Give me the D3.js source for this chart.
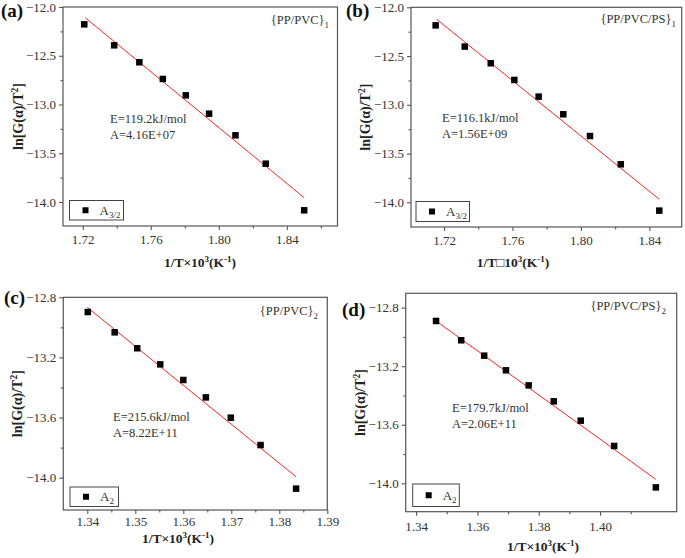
<!DOCTYPE html>
<html>
<head>
<meta charset="utf-8">
<script src="https://cdn.jsdelivr.net/npm/d3@7"></script>
<style>
  body { margin: 0; background: #fff; }
  svg { display: block; }
  text { font-family: "Liberation Serif", "Times New Roman", serif; }
</style>
</head>
<body>
<svg id="chart" width="685" height="558"></svg>
<script>
// ---------- DATA ----------
// Panel (a) {PP/PVC}1, A3/2
const aX = [1.7209, 1.7385, 1.7533, 1.7671, 1.7806, 1.7943, 1.8098, 1.8276, 1.8502];
const aY = [-12.178, -12.393, -12.567, -12.738, -12.906, -13.094, -13.316, -13.607, -14.085];
const aFitX = [1.7214, 1.8502];
const aFitY = [-12.109, -13.956];
const aXTicks = [1.72, 1.76, 1.80, 1.84];
const aXMinor = [1.74, 1.78, 1.82, 1.86];
const aYTicks = [-12.0, -12.5, -13.0, -13.5, -14.0];
const aYMinor = [-12.25, -12.75, -13.25, -13.75];

// Panel (b) {PP/PVC/PS}1, A3/2
const bX = [1.7151, 1.7321, 1.7473, 1.7611, 1.7753, 1.7897, 1.8053, 1.8233, 1.8458];
const bY = [-12.185, -12.403, -12.574, -12.745, -12.916, -13.097, -13.320, -13.610, -14.085];
const bFitX = [1.7157, 1.8458];
const bFitY = [-12.123, -13.969];
const bXTicks = [1.72, 1.76, 1.80, 1.84];
const bXMinor = [1.74, 1.78, 1.82];
const bYTicks = [-12.0, -12.5, -13.0, -13.5, -14.0];
const bYMinor = [-12.25, -12.75, -13.25, -13.75];

// Panel (c) {PP/PVC}2, A2
const cX = [1.3401, 1.3457, 1.3504, 1.3552, 1.3600, 1.3647, 1.3699, 1.3761, 1.3835];
const cY = [-12.898, -13.033, -13.139, -13.246, -13.350, -13.466, -13.601, -13.783, -14.073];
const cFitX = [1.3400, 1.3835];
const cFitY = [-12.867, -13.994];
const cXTicks = [1.34, 1.35, 1.36, 1.37, 1.38, 1.39];
const cXMinor = [1.345, 1.355, 1.365, 1.375, 1.385];
const cYTicks = [-12.8, -13.2, -13.6, -14.0];
const cYMinor = [-13.0, -13.4, -13.8];

// Panel (d) {PP/PVC/PS}2, A2
const dX = [1.3465, 1.3547, 1.3622, 1.3693, 1.3767, 1.3849, 1.3937, 1.4046, 1.4182];
const dY = [-12.891, -13.023, -13.128, -13.228, -13.331, -13.440, -13.572, -13.745, -14.028];
const dFitX = [1.3465, 1.4182];
const dFitY = [-12.891, -13.973];
const dXTicks = [1.34, 1.36, 1.38, 1.40];
const dXMinor = [1.35, 1.37, 1.39, 1.41];
const dYTicks = [-12.8, -13.2, -13.6, -14.0];
const dYMinor = [-13.0, -13.4, -13.8];

// ---------- LAYOUT ----------
const panels = [
  { tag: "(a)", tagPos: [1, 17],
    box: { l: 63, r: 337.5, t: 7, b: 226 }, xDom: [1.7084, 1.8698], yDom: [-14.246, -12.0],
    x: aX, y: aY, fx: aFitX, fy: aFitY, xt: aXTicks, xm: aXMinor, yt: aYTicks, ym: aYMinor,
    sample: "{PP/PVC}", sampleSub: "1", samplePos: [329, 24],
    E: "E=119.2kJ/mol", A: "A=4.16E+07", eaPos: [110, 123],
    legend: { x: 69.5, y: 200.5, w: 54, h: 19.5 }, legSub: "3/2",
    xPad: 5, xTitleMid: "×", xTitleX: 200, xTitleY: 267, yTitleX: 23 },
  { tag: "(b)", tagPos: [346, 17],
    box: { l: 411, r: 681.7, t: 7.3, b: 227 }, xDom: [1.7007, 1.8589], yDom: [-14.253, -12.0],
    x: bX, y: bY, fx: bFitX, fy: bFitY, xt: bXTicks, xm: bXMinor, yt: bYTicks, ym: bYMinor,
    sample: "{PP/PVC/PS}", sampleSub: "1", samplePos: [676, 23],
    E: "E=116.1kJ/mol", A: "A=1.56E+09", eaPos: [442, 122],
    legend: { x: 416, y: 201.5, w: 53.5, h: 20 }, legSub: "3/2",
    xPad: 5, xTitleMid: "\u25A1", xTitleX: 513, xTitleY: 267, yTitleX: 370 },
  { tag: "(c)", tagPos: [4, 304],
    box: { l: 63.3, r: 327.3, t: 297.3, b: 510 }, xDom: [1.335, 1.39], yDom: [-14.215, -12.8],
    x: cX, y: cY, fx: cFitX, fy: cFitY, xt: cXTicks, xm: cXMinor, yt: cYTicks, ym: cYMinor,
    sample: "{PP/PVC}", sampleSub: "2", samplePos: [318, 315],
    E: "E=215.6kJ/mol", A: "A=8.22E+11", eaPos: [113, 421],
    legend: { x: 70, y: 487, w: 48.5, h: 19.5 }, legSub: "2",
    xPad: 3, xTitleMid: "×", xTitleX: 178, xTitleY: 543, yTitleX: 22 },
  { tag: "(d)", tagPos: [342, 316],
    box: { l: 405.7, r: 676.7, t: 293.3, b: 511.7 }, xDom: [1.3366, 1.425], yDom: [-14.194, -12.702],
    x: dX, y: dY, fx: dFitX, fy: dFitY, xt: dXTicks, xm: dXMinor, yt: dYTicks, ym: dYMinor,
    sample: "{PP/PVC/PS}", sampleSub: "2", samplePos: [666, 310],
    E: "E=179.7kJ/mol", A: "A=2.06E+11", eaPos: [452, 412],
    legend: { x: 412.7, y: 484, w: 46.6, h: 22.5 }, legSub: "2",
    xPad: 6, xTitleMid: "×", xTitleX: 543, xTitleY: 551, yTitleX: 365 }
];

const svg = d3.select("#chart");
const axisColor = "#555";
const textColor = "#333";
const FONT = "'Liberation Serif', 'Times New Roman', serif";

panels.forEach(p => {
  const g = svg.append("g");
  const xs = d3.scaleLinear().domain(p.xDom).range([p.box.l, p.box.r]);
  const ys = d3.scaleLinear().domain(p.yDom).range([p.box.b, p.box.t]);

  // frame
  g.append("rect")
    .attr("x", p.box.l).attr("y", p.box.t)
    .attr("width", p.box.r - p.box.l).attr("height", p.box.b - p.box.t)
    .attr("fill", "none").attr("stroke", axisColor).attr("stroke-width", 1.2);

  // x axis
  const xAxis = d3.axisBottom(xs).tickValues(p.xt).tickFormat(d3.format(".2f"))
    .tickSizeInner(4).tickSizeOuter(0).tickPadding(p.xPad);
  const xg = g.append("g").attr("transform", `translate(0,${p.box.b})`).call(xAxis);
  xg.select(".domain").remove();
  xg.selectAll("line").attr("stroke", axisColor).attr("stroke-width", 1.1);
  xg.selectAll("text").attr("font-size", 13).attr("fill", textColor).style("font-family", FONT);
  const xMinor = d3.axisBottom(xs).tickValues(p.xm.filter(v => v > p.xDom[0] && v < p.xDom[1]))
    .tickSizeInner(2.5).tickSizeOuter(0).tickFormat("");
  const xmg = g.append("g").attr("transform", `translate(0,${p.box.b})`).call(xMinor);
  xmg.select(".domain").remove();
  xmg.selectAll("line").attr("stroke", axisColor).attr("stroke-width", 1.1);

  // y axis
  const yAxis = d3.axisLeft(ys).tickValues(p.yt).tickFormat(d3.format(".1f"))
    .tickSizeInner(4).tickSizeOuter(0).tickPadding(3);
  const yg = g.append("g").attr("transform", `translate(${p.box.l},0)`).call(yAxis);
  yg.select(".domain").remove();
  yg.selectAll("line").attr("stroke", axisColor).attr("stroke-width", 1.1);
  yg.selectAll("text").attr("font-size", 13).attr("fill", textColor).style("font-family", FONT);
  const yMinor = d3.axisLeft(ys).tickValues(p.ym.filter(v => v > p.yDom[0] && v < p.yDom[1]))
    .tickSizeInner(2.5).tickSizeOuter(0).tickFormat("");
  const ymg = g.append("g").attr("transform", `translate(${p.box.l},0)`).call(yMinor);
  ymg.select(".domain").remove();
  ymg.selectAll("line").attr("stroke", axisColor).attr("stroke-width", 1.1);

  // fit line
  const line = d3.line().x(d => xs(d[0])).y(d => ys(d[1]));
  g.append("path").datum(d3.zip(p.fx, p.fy))
    .attr("d", line).attr("fill", "none").attr("stroke", "#ff2020").attr("stroke-width", 1);

  // points
  const ms = 6.5;
  g.selectAll("rect.pt").data(d3.zip(p.x, p.y)).enter().append("rect")
    .attr("class", "pt")
    .attr("x", d => xs(d[0]) - ms / 2).attr("y", d => ys(d[1]) - ms / 2)
    .attr("width", ms).attr("height", ms).attr("fill", "#000");

  // panel tag
  g.append("text").attr("x", p.tagPos[0]).attr("y", p.tagPos[1])
    .attr("font-size", 19).attr("font-weight", "bold").attr("fill", "#111").text(p.tag);

  // sample label
  const st = g.append("text").attr("x", p.samplePos[0]).attr("y", p.samplePos[1])
    .attr("text-anchor", "end").attr("font-size", 12.5).attr("fill", textColor);
  st.append("tspan").text(p.sample);
  st.append("tspan").attr("font-size", 9).attr("dy", 4).text(p.sampleSub);

  // E / A annotation
  g.append("text").attr("x", p.eaPos[0]).attr("y", p.eaPos[1])
    .attr("font-size", 12.5).attr("fill", textColor).text(p.E);
  g.append("text").attr("x", p.eaPos[0]).attr("y", p.eaPos[1] + 16)
    .attr("font-size", 12.5).attr("fill", textColor).text(p.A);

  // legend
  g.append("rect").attr("x", p.legend.x).attr("y", p.legend.y)
    .attr("width", p.legend.w).attr("height", p.legend.h)
    .attr("fill", "#fff").attr("stroke", "#444").attr("stroke-width", 1);
  g.append("rect").attr("x", p.legend.x + 13).attr("y", p.legend.y + p.legend.h / 2 - 3)
    .attr("width", 6).attr("height", 6).attr("fill", "#000");
  const lt = g.append("text").attr("x", p.legend.x + 30).attr("y", p.legend.y + p.legend.h / 2 + 4.5)
    .attr("font-size", 13).attr("fill", textColor);
  lt.append("tspan").text("A");
  lt.append("tspan").attr("font-size", 9).attr("dy", 3).text(p.legSub);

  // x title
  const xt = g.append("text").attr("x", p.xTitleX).attr("y", p.xTitleY)
    .attr("text-anchor", "middle").attr("font-size", 13.5).attr("font-weight", "bold").attr("fill", "#222");
  xt.append("tspan").text("1/T" + p.xTitleMid + "10");
  xt.append("tspan").attr("font-size", 9).attr("dy", -5).text("3");
  xt.append("tspan").attr("dy", 5).text("(K");
  xt.append("tspan").attr("font-size", 9).attr("dy", -5).text("-1");
  xt.append("tspan").attr("dy", 5).text(")");

  // y title
  const yMid = (p.box.t + p.box.b) / 2;
  const yt = g.append("text")
    .attr("transform", `translate(${p.yTitleX},${yMid}) rotate(-90)`)
    .attr("text-anchor", "middle").attr("font-size", 14).attr("font-weight", "bold").attr("fill", "#222");
  yt.append("tspan").text("ln[G(\u03B1)/T");
  yt.append("tspan").attr("font-size", 9.5).attr("dy", -5).text("2");
  yt.append("tspan").attr("dy", 5).text("]");
});
</script>
</body>
</html>
